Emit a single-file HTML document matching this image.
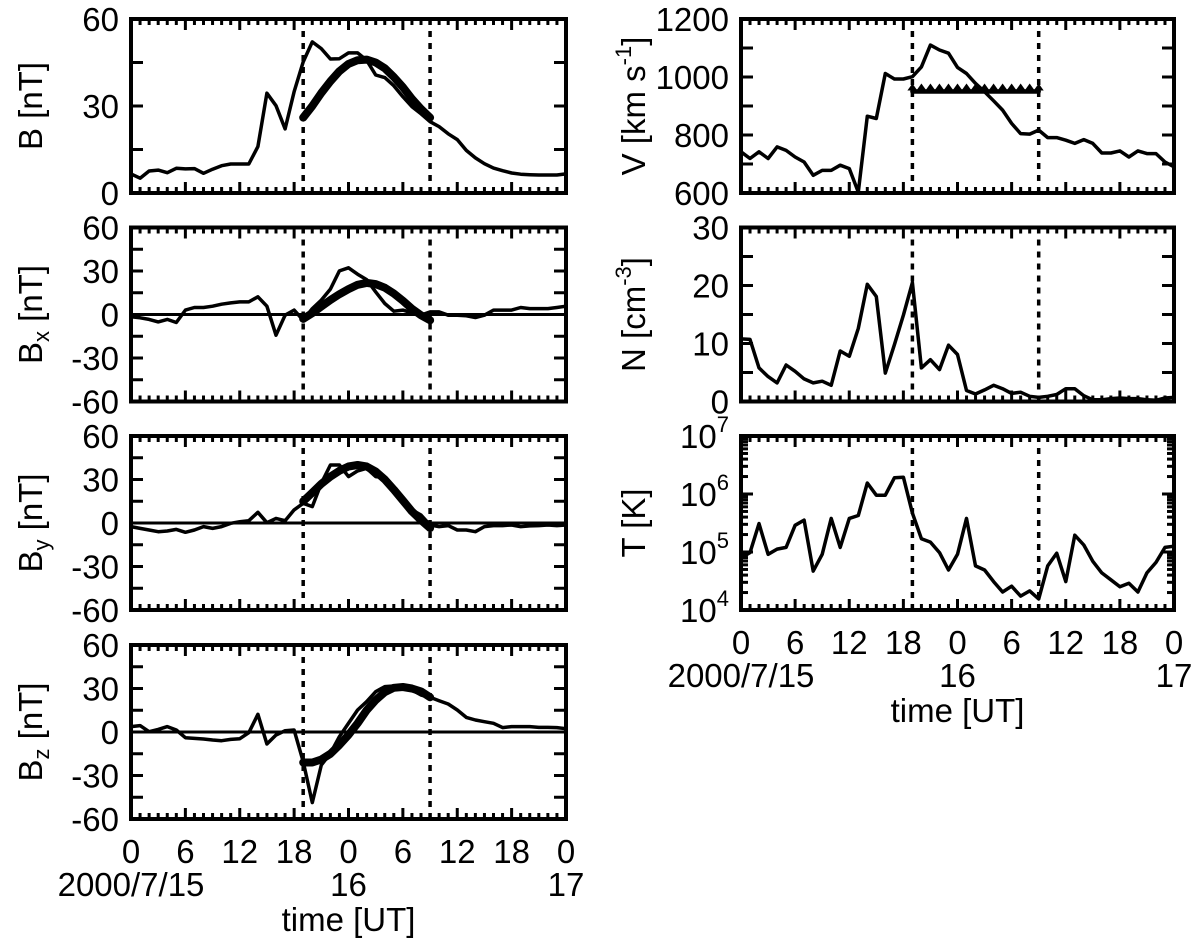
<!DOCTYPE html>
<html><head><meta charset="utf-8"><style>
html,body{margin:0;padding:0;background:#fff;}
svg{display:block;font-family:"Liberation Sans",Arial,sans-serif;}
</style></head><body>
<svg id="chart" width="1200" height="944" viewBox="0 0 1200 944" xmlns="http://www.w3.org/2000/svg"></svg>
<script>
// ---- data (hourly, 0..48 h from 2000/7/15 00 UT) ----
const hours = Array.from({length:49},(_,i)=>i);
const fitHours = [19,20,21,22,23,24,25,26,27,28,29,30,31,32,33];
const boundaryHours = [19,33];
const bObs = [6.6,5.1,7.6,7.9,7.0,8.5,8.3,8.4,6.8,8.2,9.4,10,10,10,16.0,34.4,30.1,22.1,34.9,45.2,52.1,49.8,46.2,46.3,48.3,48.3,45.8,40.7,39.8,37,33.2,29.8,27.3,24.6,22.9,20.4,18.4,14.7,12.1,10.1,8.6,7.7,6.9,6.5,6.3,6.2,6.2,6.2,6.6];
const bFit = [26,30,34.5,38.5,42,44.5,45.8,46,45,43,40,36.5,32.5,29,26];
const bxObs = [-1.6,-2.3,-3.4,-5.1,-3.4,-5.5,3.0,4.8,4.8,5.7,7.1,8.0,8.7,8.7,12.2,5.7,-14.3,-0.5,3.0,-3.9,4.1,9.9,17.5,30.1,32.2,27.8,24.1,15.6,7.6,2.3,3.0,1.1,-0.5,1.8,1.8,-0.5,-0.5,-0.9,-2.1,-0.5,3.0,3.0,3.0,4.8,4.1,4.1,4.1,4.8,5.7];
const bxFit = [-3,1,5.5,10,14,17.5,20.5,21.8,21,18.5,14.5,9.5,4,-0.5,-4];
const byObs = [-2.5,-3.7,-4.8,-6.0,-5.5,-4.4,-6.4,-4.8,-2.5,-3.7,-2.5,-0.2,0.9,1.6,7.4,0.2,3.2,1.6,9.0,13.6,11.3,27.4,40,40,32,35.9,37.7,32,31.3,25.1,17,9,5.5,-1.4,-2.5,-1.8,-4.8,-4.8,-6,-2.5,-1.8,-1.8,-1.4,-2.5,-2,-1.8,-1.4,-1.8,-1.4];
const byFit = [15,21,27,32,36,39,40,39,35.5,30,23,15.5,8,2,-3.5];
const bzObs = [3.7,4.4,0.2,1.8,3.7,1.4,-3.9,-4.4,-4.8,-5.5,-6.0,-5.1,-4.6,-0.5,12.2,-8.3,-2.1,0.9,1.4,-20.5,-48.7,-22.8,-14.7,-3.2,6,15.2,20.9,27.8,31.3,31.7,30.8,29,25.5,23.9,21.6,19.3,15.2,10.1,8.3,7.1,6,3,3.7,3.7,3.7,3.2,3.2,3,2.3];
const bzFit = [-21,-21,-19,-15,-9,-2,6,15,22,27.5,30.5,31,30,28,24];
const vObs = [742,719,742,719,759,747,724,707,661,678,678,696,684,603,865,857,1012,993,993,1001,1035,1110,1093,1082,1033,1012,978,949,918,886,840,805,803,817,791,791,782,771,784,771,738,738,745,724,745,736,736,707,690];
const vFit = [950,950,950,950,950,950,950,950,950,950,950,950,950,950,950];
const nObs = [10.8,10.7,5.8,4.3,3.2,6.3,5.2,3.9,3.2,3.5,2.8,8.7,7.8,12.6,20.2,18.1,4.9,9.8,14.9,20.5,5.8,7.2,5.5,9.7,8.1,1.9,1.3,2.0,2.8,2.2,1.4,1.6,0.9,0.7,0.9,1.2,2.2,2.2,1.0,0.3,0.3,0.5,0.6,0.5,0.5,0.3,0.2,0.6,0.7];
const logTObs = [4.90,4.99,5.49,4.96,5.05,5.08,5.46,5.55,4.67,4.96,5.58,5.08,5.58,5.63,6.19,5.98,5.98,6.28,6.29,5.67,5.23,5.17,4.99,4.69,4.96,5.58,4.76,4.69,4.49,4.31,4.41,4.24,4.33,4.19,4.76,4.98,4.49,5.29,5.12,4.84,4.64,4.52,4.40,4.46,4.31,4.64,4.82,5.08,5.10];
const xTickLabels = ["0","6","12","18","0","6","12","18","0"];
const dateLabels = [["2000/7/15",0],["16",24],["17",48]];

// ---- drawing ----
const NS="http://www.w3.org/2000/svg";
const svg=document.getElementById('chart');
function el(tag,attrs,parent){const e=document.createElementNS(NS,tag);for(const k in attrs)e.setAttribute(k,attrs[k]);(parent||svg).appendChild(e);return e;}
const H=174, FS=33, FSS=22;
const panels=[
 {id:'b',x0:131,x1:566,top:19,min:0,max:60,ticks:[0,30,60],step:15,obs:bObs,fit:bFit,zero:false,label:'B [nT]',sub:null,lx:30},
 {id:'bx',x0:131,x1:566,top:227.5,min:-60,max:60,ticks:[-60,-30,0,30,60],step:15,obs:bxObs,fit:bxFit,zero:true,label:'B',sub:'x',lx:30},
 {id:'by',x0:131,x1:566,top:436,min:-60,max:60,ticks:[-60,-30,0,30,60],step:15,obs:byObs,fit:byFit,zero:true,label:'B',sub:'y',lx:30},
 {id:'bz',x0:131,x1:566,top:645,min:-60,max:60,ticks:[-60,-30,0,30,60],step:15,obs:bzObs,fit:bzFit,zero:true,label:'B',sub:'z',lx:30,bottom:true},
 {id:'v',x0:741,x1:1174,top:19,min:600,max:1200,ticks:[600,800,1000,1200],step:100,obs:vObs,fit:vFit,fitV:true,label:'V',lx:633},
 {id:'n',x0:741,x1:1174,top:227.5,min:0,max:30,ticks:[0,10,20,30],step:5,obs:nObs,label:'N',lx:633},
 {id:'t',x0:741,x1:1174,top:436,min:4,max:7,log:true,ticks:[4,5,6,7],obs:logTObs,label:'T [K]',lx:633,bottom:true}
];
panels.forEach(p=>{
  const g=el('g',{});
  
  
  const bot=p.top+H;
  const xs=h=>p.x0+(h/48)*(p.x1-p.x0);
  const ys=v=>bot-(v-p.min)/(p.max-p.min)*H;
  for(let h=0;h<=48;h++){
    const len=h%6===0?11:6;const x=xs(h);
    el('line',{x1:x,x2:x,y1:bot,y2:bot-len,stroke:'#000','stroke-width':3},g);
    el('line',{x1:x,x2:x,y1:p.top,y2:p.top+len,stroke:'#000','stroke-width':3},g);
  }
  if(p.log){
    for(let d=4;d<7;d++){for(let m=1;m<=10;m++){const v=d+Math.log10(m);const len=(m===1||m===10)?12:7;const y=ys(v);
      el('line',{x1:p.x0,x2:p.x0+len,y1:y,y2:y,stroke:'#000','stroke-width':3},g);
      el('line',{x1:p.x1,x2:p.x1-len,y1:y,y2:y,stroke:'#000','stroke-width':3},g);}}
  } else {
    for(let v=p.min;v<=p.max+1e-9;v+=p.step){const y=ys(v);
      el('line',{x1:p.x0,x2:p.x0+12,y1:y,y2:y,stroke:'#000','stroke-width':3},g);
      el('line',{x1:p.x1,x2:p.x1-12,y1:y,y2:y,stroke:'#000','stroke-width':3},g);}
  }
  p.ticks.forEach(v=>{
    const t=el('text',{x:p.x0-12,y:ys(v)+12,'font-size':FS,'text-anchor':'end'},g);
    
    
    if(p.log){t.textContent='10';const s=el('tspan',{'font-size':FSS,dy:-16},t);s.textContent=String(v);}
    else t.textContent=String(v);
  });
  if(p.zero){const l=el('line',{x1:p.x0,x2:p.x1,y1:ys(0),y2:ys(0),stroke:'#000','stroke-width':3},g);
    }
  boundaryHours.forEach(h=>{const l=el('line',{x1:xs(h),x2:xs(h),y1:p.top,y2:bot,stroke:'#000','stroke-width':3.5,'stroke-dasharray':'6,6'},g);
    });
  const pts=p.obs.map((v,i)=>xs(hours[i]).toFixed(1)+','+ys(v).toFixed(1)).join(' ');
  const ob=el('polyline',{points:pts,fill:'none',stroke:'#000','stroke-width':3.5,'stroke-linejoin':'round'},g);
  
  
  if(p.fit){
    const fp=p.fit.map((v,i)=>xs(fitHours[i]).toFixed(1)+','+ys(v).toFixed(1)).join(' ');
    const f=el('polyline',{points:fp,fill:'none',stroke:'#000','stroke-width':p.fitV?4.5:8,'stroke-linejoin':'round','stroke-linecap':'round'},g);
    
    
    if(p.fitV){p.fit.forEach((v,i)=>{const x=xs(fitHours[i]),y=ys(v);
      const tr=el('polygon',{points:`${x-5},${y-1} ${x+5},${y-1} ${x},${y-8}`,fill:'#000'},g);
      });}
  }
  el('rect',{x:p.x0,y:p.top,width:p.x1-p.x0,height:H,fill:'none',stroke:'#000','stroke-width':4},g);
  const cy=p.top+H/2;
  const yt=el('text',{x:p.lx,y:cy,'font-size':FS,'text-anchor':'middle',transform:`rotate(-90 ${p.lx} ${cy})`,dy:12},g);
  
  
  if(p.sub){yt.textContent=p.label;const s=el('tspan',{'font-size':FSS,dy:7},yt);s.textContent=p.sub;const r=el('tspan',{dy:-7},yt);r.textContent=' [nT]';}
  else if(p.id==='v'){yt.textContent='V [km s';const s=el('tspan',{'font-size':FSS,dy:-14},yt);s.textContent='-1';const r=el('tspan',{dy:14},yt);r.textContent=']';}
  else if(p.id==='n'){yt.textContent='N [cm';const s=el('tspan',{'font-size':FSS,dy:-14},yt);s.textContent='-3';const r=el('tspan',{dy:14},yt);r.textContent=']';}
  else yt.textContent=p.label;
  if(p.bottom){
    xTickLabels.forEach((s,i)=>{const t=el('text',{x:xs(i*6),y:bot+44,'font-size':FS,'text-anchor':'middle'},g);
      t.textContent=s;});
    dateLabels.forEach(d=>{const t=el('text',{x:xs(d[1]),y:bot+77,'font-size':FS,'text-anchor':'middle'},g);
      t.textContent=d[0];});
    const t=el('text',{x:(p.x0+p.x1)/2,y:bot+112,'font-size':FS,'text-anchor':'middle'},g);
    t.textContent='time [UT]';
  }
});
</script>
</body></html>
